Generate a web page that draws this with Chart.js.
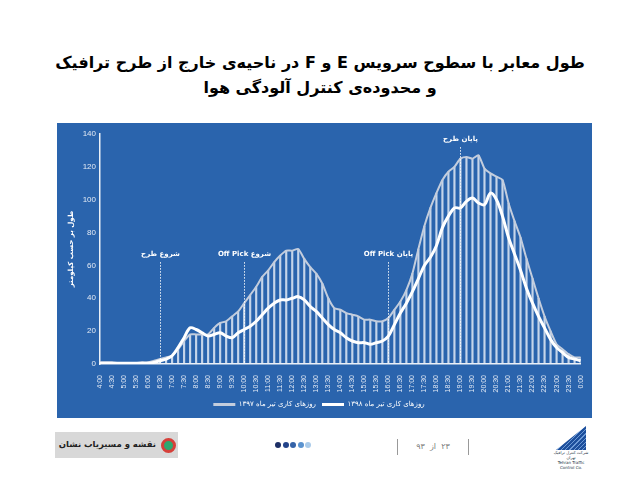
<!DOCTYPE html>
<html>
<head>
<meta charset="utf-8">
<script src="https://cdn.jsdelivr.net/npm/chart.js@4"></script>
<style>
  body { margin: 0; background: #fff; width: 633px; height: 486px; position: relative; overflow: hidden; font-family: "DejaVu Sans", sans-serif; }
  .title { position: absolute; left: 20px; width: 600px; top: 50px; text-align: center; direction: rtl; font-weight: bold; font-size: 16px; line-height: 25px; color: #000; white-space: nowrap; }
  .panel { position: absolute; left: 57px; top: 123px; width: 535px; height: 295px; background: #2a64ad; }
  .logo-left { position: absolute; left: 55px; top: 432px; width: 123px; height: 26px; background: #d8d8d8; }
  .logo-left span { position: absolute; right: 22px; top: 7px; font-size: 8.5px; font-weight: bold; color: #222; direction: rtl; white-space: nowrap; }
  .logo-left i { position: absolute; left: 106px; top: 6px; width: 9px; height: 9px; border: 3px solid #d6403a; border-radius: 50%; background: #2fa870; }
  .dots { position: absolute; left: 275px; top: 442px; display: flex; gap: 1.5px; }
  .dots b { display: block; width: 6px; height: 6px; border-radius: 50%; }
  .sep { position: absolute; top: 439px; width: 1px; height: 16px; background: #999; }
  .page { position: absolute; left: 405px; width: 56px; top: 442px; text-align: center; font-size: 8px; color: #777; direction: rtl; }
  .logo-right { position: absolute; left: 550px; top: 426px; width: 42px; }
  .logo-right .mark { margin-left: 6px; width: 30px; height: 24px; background: repeating-linear-gradient(135deg, #1d4f9c 0 2px, #6d9ad6 2px 3px); clip-path: polygon(100% 0, 100% 100%, 0 100%); }
  .logo-right div.t { font-size: 4px; color: #234; line-height: 5px; text-align: center; }
</style>
</head>
<body>
<div class="title">طول معابر با سطوح سرویس E و F در ناحیه‌ی خارج از طرح ترافیک<br>و محدوده‌ی کنترل آلودگی هوا</div>
<div class="panel"><canvas id="chart"></canvas></div>
<div class="logo-left"><span>نقشه و مسیریاب نشان</span><i></i></div>
<div class="dots"><b style="background:#1d2f66"></b><b style="background:#23438a"></b><b style="background:#3563a8"></b><b style="background:#5b93cf"></b><b style="background:#aacbea"></b></div>
<div class="sep" style="left:397px"></div>
<div class="page">۲۳ &nbsp;از&nbsp; ۹۳</div>
<div class="sep" style="left:468px"></div>
<div class="logo-right"><div class="mark"></div><div class="t">شرکت کنترل ترافیک تهران</div><div class="t">Tehran Traffic Control Co.</div></div>

<script>
// 15-minute intervals from 4:00 to 0:00
const times = ['4:00','4:15','4:30','4:45','5:00','5:15','5:30','5:45','6:00','6:15','6:30','6:45','7:00','7:15','7:30','7:45','8:00','8:15','8:30','8:45','9:00','9:15','9:30','9:45','10:00','10:15','10:30','10:45','11:00','11:15','11:30','11:45','12:00','12:15','12:30','12:45','13:00','13:15','13:30','13:45','14:00','14:15','14:30','14:45','15:00','15:15','15:30','15:45','16:00','16:15','16:30','16:45','17:00','17:15','17:30','17:45','18:00','18:15','18:30','18:45','19:00','19:15','19:30','19:45','20:00','20:15','20:30','20:45','21:00','21:15','21:30','21:45','22:00','22:15','22:30','22:45','23:00','23:15','23:30','23:45','0:00'];

// km, working days of Tir 1397
const km1397 = [1,1,1,0.5,0.5,0.5,0.5,1,1,2,3,4,5,9,14,18,18,18,18,22,25,26,29,32,37,42,47,53,57,62,66,69,69,70,64,59,55,49,40,34,33,31,30,29,27,27,26,26,28,33,38,45,55,70,84,95,104,112,117,120,125,126,125,127,119,116,114,112,98,87,77,64,52,40,29,20,12,9,6,4,4];
// km, working days of Tir 1398
const km1398 = [0.5,0.5,0.5,0.5,0.5,0.5,0.5,0.5,0.5,1,2,3,5,10,16,22,21,19,17,18,19,17,16,19,21,23,26,30,34,37,39,39,40,41,39,35,32,28,24,21,19,16,14,13,13,12,13,14,17,24,31,37,44,52,60,65,72,83,90,95,95,99,101,98,97,104,100,90,77,67,57,46,37,29,22,15,10,7,4,3,2];

const seriesNames = ['روزهای کاری تیر ماه ۱۳۹۷', 'روزهای کاری تیر ماه ۱۳۹۸'];
const yTicks = [0, 20, 40, 60, 80, 100, 120, 140];

// dashed markers
const markerTimes = ['6:30', '10:00', '16:00', '19:00'];
const markerLabels = ['شروع طرح', 'شروع Off Pick', 'پایان Off Pick', 'پایان طرح'];
const markerTops = [62, 62, 62, 132];

const fa = '"DejaVu Sans", sans-serif';
const ar = '"Liberation Sans", Arial, sans-serif';

const markers = {
  id: 'markers',
  afterDatasetsDraw(chart) {
    const { ctx, scales: { x, y } } = chart;
    ctx.save();
    markerTimes.forEach((t, i) => {
      const px = Math.round(x.getPixelForValue(times.indexOf(t))) + 0.5;
      const top = y.getPixelForValue(markerTops[i]);
      ctx.strokeStyle = 'rgba(255,255,255,0.9)';
      ctx.lineWidth = 1;
      ctx.setLineDash([1.5, 1.5]);
      ctx.beginPath();
      ctx.moveTo(px, top);
      ctx.lineTo(px, y.getPixelForValue(0));
      ctx.stroke();
      ctx.setLineDash([]);
      ctx.fillStyle = '#fff';
      ctx.direction = 'rtl';
      ctx.textAlign = 'center';
      ctx.textBaseline = 'bottom';
      ctx.font = 'bold 7px ' + fa;
      ctx.fillText(markerLabels[i], px, top - 4);
    });
    ctx.restore();
  }
};

new Chart(document.getElementById('chart'), {
  data: {
    labels: times,
    datasets: [
      {
        type: 'bar',
        data: km1397,
        backgroundColor: 'rgba(236,241,249,0.8)',
        barThickness: 1.5,
        order: 3
      },
      {
        type: 'line',
        label: seriesNames[0],
        data: km1397,
        borderColor: '#c3cddd',
        backgroundColor: '#c3cddd',
        borderWidth: 2,
        pointRadius: 0,
        tension: 0.2,
        order: 2
      },
      {
        type: 'line',
        label: seriesNames[1],
        data: km1398,
        borderColor: '#ffffff',
        backgroundColor: '#ffffff',
        borderWidth: 3,
        pointRadius: 0,
        tension: 0.35,
        order: 1
      }
    ]
  },
  options: {
    responsive: true,
    maintainAspectRatio: false,
    animation: false,
    layout: { padding: { top: 11, right: 11, left: 0, bottom: 0 } },
    plugins: {
      tooltip: { enabled: false },
      legend: {
        position: 'bottom',
        labels: {
          color: '#fff',
          font: { family: fa, size: 7 },
          boxWidth: 22,
          boxHeight: 3,
          padding: 6,
          sort: (a, b) => a.datasetIndex - b.datasetIndex,
          generateLabels(chart) {
            const items = Chart.defaults.plugins.legend.labels.generateLabels(chart);
            return items.filter(it => it.datasetIndex !== 0).map(it => ({
              ...it,
              fillStyle: chart.data.datasets[it.datasetIndex].borderColor,
              strokeStyle: chart.data.datasets[it.datasetIndex].borderColor,
              lineWidth: 0
            }));
          }
        }
      }
    },
    scales: {
      x: {
        offset: false,
        grid: { display: false },
        border: { display: true, color: 'rgba(255,255,255,0.9)', width: 1.5 },
        ticks: {
          color: '#e3eaf5',
          font: { family: ar, size: 7 },
          autoSkip: false,
          minRotation: 90,
          maxRotation: 90,
          padding: 3,
          callback(v) {
            const l = times[v];
            return (l.endsWith(':00') || l.endsWith(':30')) ? l : '';
          }
        },
        afterFit(scale) { scale.height = 31; }
      },
      y: {
        min: 0,
        max: 140,
        grid: { display: false, drawTicks: false },
        border: { display: true, color: 'rgba(255,255,255,0.9)', width: 1.5 },
        afterBuildTicks(scale) { scale.ticks = yTicks.map(v => ({ value: v })); },
        ticks: {
          color: '#e3eaf5',
          font: { family: ar, size: 8 },
          padding: 4
        },
        title: {
          display: true,
          text: 'طول بر حسب کیلومتر',
          color: '#fff',
          font: { family: fa, size: 7, weight: 'bold' },
          padding: { top: 10, bottom: 0 }
        },
        afterFit(scale) { scale.width = 43; }
      }
    }
  },
  plugins: [markers]
});
</script>
</body>
</html>
